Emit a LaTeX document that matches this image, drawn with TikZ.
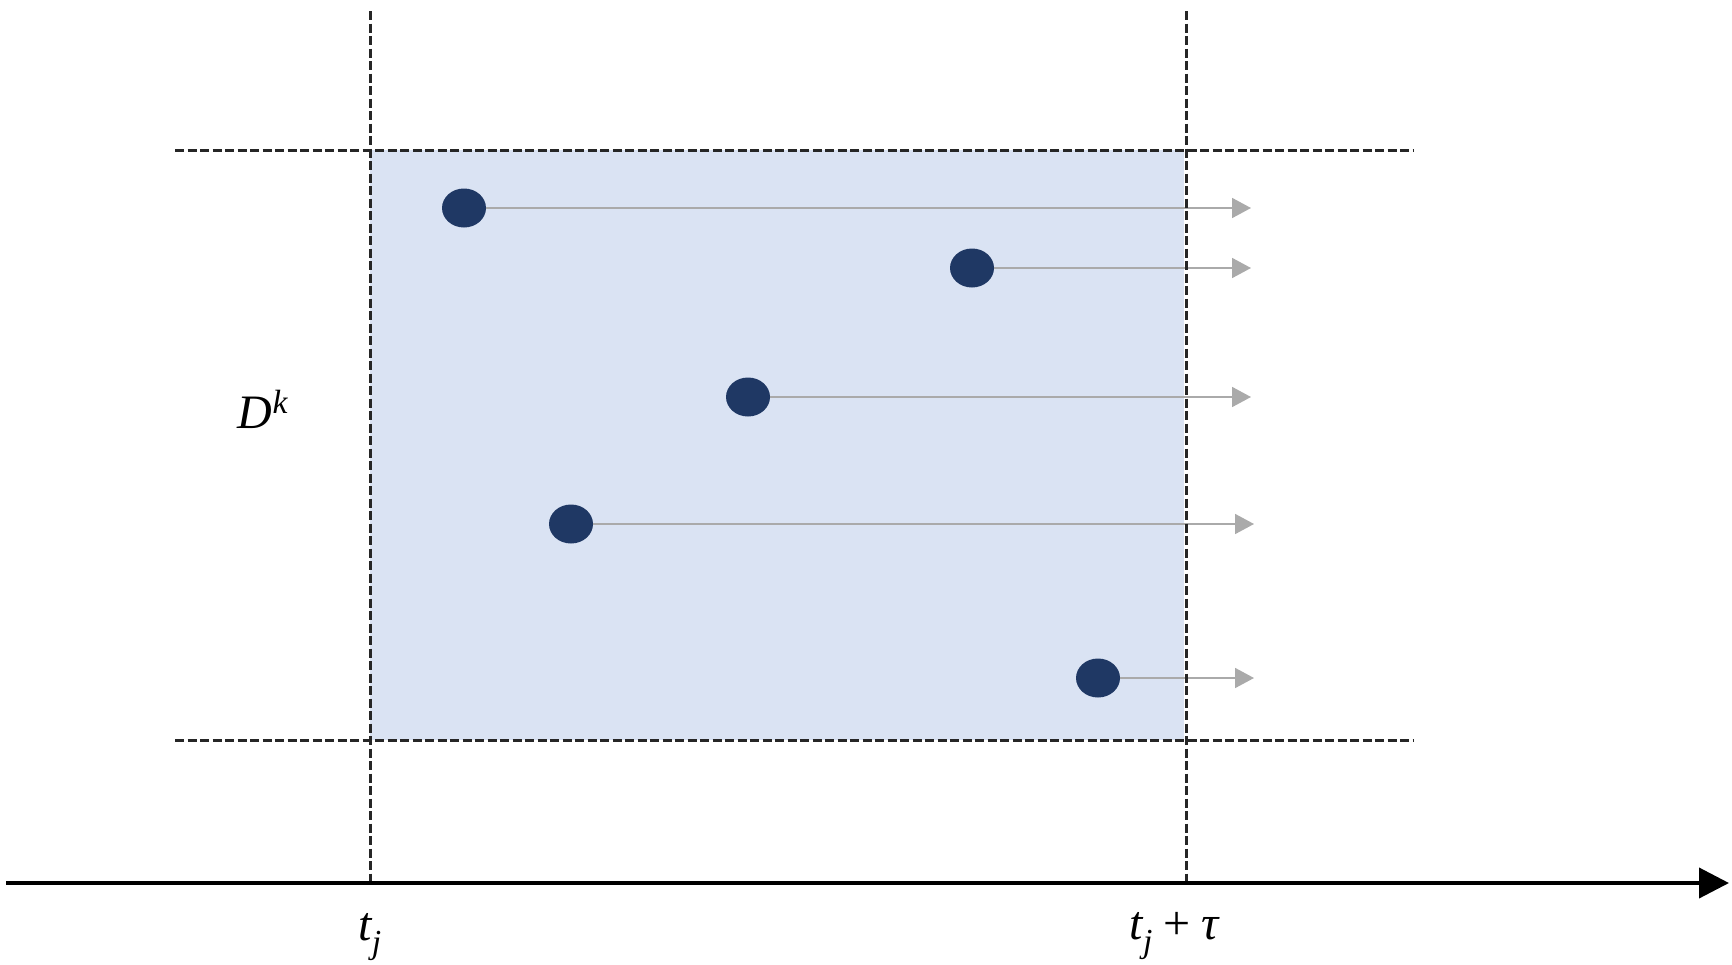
\documentclass[tikz,border=0pt]{standalone}
\usepackage{fontspec}
\setmainfont{Liberation Serif}
\usetikzlibrary{arrows.meta,shapes.geometric}
\definecolor{fillblue}{RGB}{218,227,243}
\definecolor{navy}{RGB}{31,56,100}
\definecolor{arrowgrey}{RGB}{170,170,170}
\tikzset{
  guide/.style={draw=black!85, line width=3pt, dash pattern=on 9pt off 3.5pt},
  dot/.style={ellipse, fill=navy, minimum width=44pt, minimum height=39pt, inner sep=0pt},
  garrow/.style={draw=arrowgrey, line width=1.8pt, -{Triangle[length=19pt,width=20pt]}},
  axisline/.style={draw=black, line width=4pt, -{Triangle[length=30pt,width=30pt]}},
  lab/.style={font=\fontsize{48}{56}\selectfont\itshape, inner sep=0pt}
}
\begin{document}
\begin{tikzpicture}[x=1pt,y=-1pt]
\useasboundingbox (0,0) rectangle (1732,964);
\fill[fillblue] (370,150) rectangle (1184,740);
% dots
\node[dot] (d1) at (464,208) {};
\node[dot] (d2) at (972,268) {};
\node[dot] (d3) at (748,397) {};
\node[dot] (d4) at (571,524) {};
\node[dot] (d5) at (1098,678) {};
\coordinate (e1) at (1251,208);
\coordinate (e2) at (1251,268);
\coordinate (e3) at (1251,397);
\coordinate (e4) at (1254,524);
\coordinate (e5) at (1254,678);
\foreach \i in {1,...,5} {\draw[garrow] (d\i.east) -- (e\i);}
% guides
\coordinate (v1t) at (370,11); \coordinate (v1b) at (370,883);
\coordinate (v2t) at (1186,11); \coordinate (v2b) at (1186,883);
\coordinate (h1l) at (175,150); \coordinate (h1r) at (1414,150);
\coordinate (h2l) at (175,740); \coordinate (h2r) at (1414,740);
\draw[guide] (v1t) -- (v1b);
\draw[guide] (v2t) -- (v2b);
\draw[guide] (h1l) -- (h1r);
\draw[guide] (h2l) -- (h2r);
% axis
\coordinate (a0) at (6,883); \coordinate (a1) at (1729,883);
\draw[axisline] (a0) -- (a1);
% labels
\node[lab] (dk) at (263,409) {D\raisebox{0.12em}{\textsuperscript{k}}};
\node[lab] (tj) at (370,937) {t\textsubscript{j}};
\node[lab] (tjt) at (1174,936) {t\textsubscript{j}\hspace{0.22em}\upshape{+}\hspace{0.22em}\itshape τ};
\end{tikzpicture}
\end{document}
